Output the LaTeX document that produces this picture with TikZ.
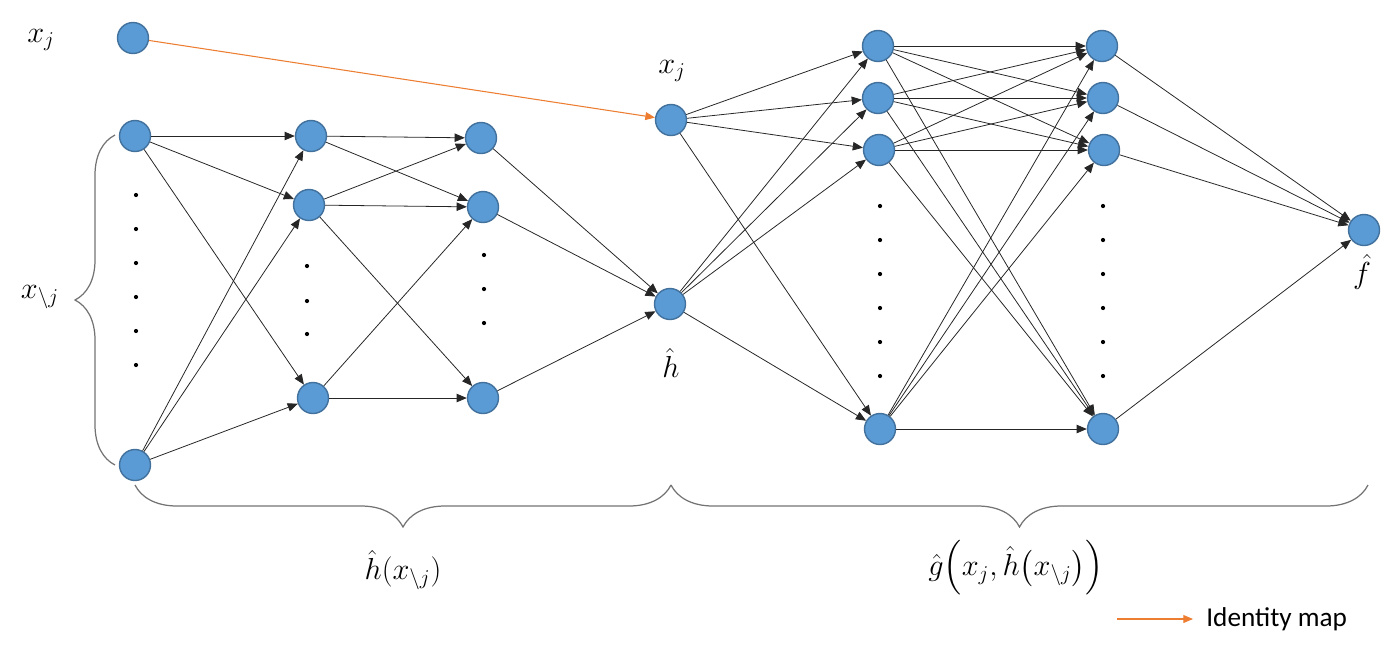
\documentclass[tikz,border=0pt]{standalone}
\usepackage{amsmath}
\usepackage{fontspec}
\newfontfamily\calib{Carlito}
\usetikzlibrary{arrows.meta,decorations.pathreplacing}
\definecolor{nblue}{HTML}{5B9BD5}
\definecolor{nborder}{HTML}{41719C}
\definecolor{orangec}{HTML}{ED7D31}
\begin{document}
\begin{tikzpicture}[x=0.02cm,y=-0.02cm,
  neuron/.style={circle,fill=nblue,draw=nborder,line width=0.8pt,minimum size=0.62cm,inner sep=0pt},
  conn/.style={draw=black!85,line width=0.45pt,-{Triangle[length=5.8pt,width=4.8pt]}},
  idmap/.style={draw=orangec,line width=0.6pt,-{Triangle[length=5.5pt,width=4.5pt]},orangec},
  lbl/.style={font=\fontsize{17}{20}\selectfont,inner sep=0pt},
  dotc/.style={circle,fill=black,inner sep=0pt,minimum size=2.4pt},
  brc/.style={draw=black!55,line width=0.7pt,decorate}]
\useasboundingbox (0,0) rectangle (1395,664);
% nodes
\node[neuron] (xin) at (133,38) {};
\node[neuron] (a1) at (135,136) {};
\node[neuron] (a2) at (135,465) {};
\node[neuron] (b1) at (311,136) {};
\node[neuron] (b2) at (309,205) {};
\node[neuron] (b3) at (313,398) {};
\node[neuron] (c1) at (481,138) {};
\node[neuron] (c2) at (483,207) {};
\node[neuron] (c3) at (483,398) {};
\node[neuron] (xj) at (671,120) {};
\node[neuron] (h) at (670,304) {};
\node[neuron] (d1) at (878,46) {};
\node[neuron] (d2) at (878,98) {};
\node[neuron] (d3) at (879,150) {};
\node[neuron] (d4) at (880,429) {};
\node[neuron] (e1) at (1102,46) {};
\node[neuron] (e2) at (1103,98) {};
\node[neuron] (e3) at (1104,150) {};
\node[neuron] (e4) at (1103,429) {};
\node[neuron] (f) at (1364,230) {};
% dots
\foreach \y [count=\i] in {195,229,263,297,331,365} \node[dotc] (da\i) at (136,\y) {};
\foreach \y [count=\i] in {266,301,334} \node[dotc] (db\i) at (307,\y) {};
\foreach \y [count=\i] in {255,289,323} \node[dotc] (dc\i) at (484,\y) {};
\foreach \y [count=\i] in {206,240,274,308,342,376} {
  \node[dotc] (dd\i) at (880,\y) {};
  \node[dotc] (de\i) at (1103,\y) {};
}
% connections
\foreach \s in {a1,a2} \foreach \t in {b1,b2,b3} \draw[conn] (\s) -- (\t);
\foreach \s/\t in {b1/c1,b1/c2,b2/c1,b2/c2,b2/c3,b3/c2,b3/c3} \draw[conn] (\s) -- (\t);
\foreach \s in {c1,c2,c3} \draw[conn] (\s) -- (h);
\foreach \s in {xj,h} \foreach \t in {d1,d2,d3,d4} \draw[conn] (\s) -- (\t);
\foreach \s in {d1,d2,d3,d4} \foreach \t in {e1,e2,e3,e4} \draw[conn] (\s) -- (\t);
\foreach \s in {e1,e2,e3,e4} \draw[conn] (\s) -- (f);
\draw[idmap] (xin) -- (xj);
% braces
\draw[brc,decoration={brace,amplitude=0.8cm}] (115,465) -- (115,135);
\draw[brc,decoration={brace,mirror,amplitude=0.84cm}] (135,485) -- (671,485);
\draw[brc,decoration={brace,mirror,amplitude=0.84cm}] (671,485) -- (1368,485);
% labels
\node[lbl] (lxj) at (41,40) {$x_j$};
\node[lbl] (lxnj) at (40,297) {$x_{\backslash j}$};
\node[lbl] (lxj2) at (672,71) {$x_j$};
\node[lbl] (lh) at (671,363) {$\hat h$};
\node[lbl] (lf) at (1362,272) {$\hat f$};
\node[lbl] (lhx) at (403,570) {$\hat h(x_{\backslash j})$};
\node[lbl] (lg) at (1016,568) {$\hat g\Bigl(x_j,\hat h\bigl(x_{\backslash j}\bigr)\Bigr)$};
% legend
\coordinate (ls) at (1117,619);
\coordinate (le) at (1193,619);
\draw[idmap] (ls) -- (le);
\node[anchor=west,inner sep=0pt,font=\calib\fontsize{15.5}{18}\selectfont] (legend) at (1206,619) {Identity map};
\end{tikzpicture}
\end{document}
